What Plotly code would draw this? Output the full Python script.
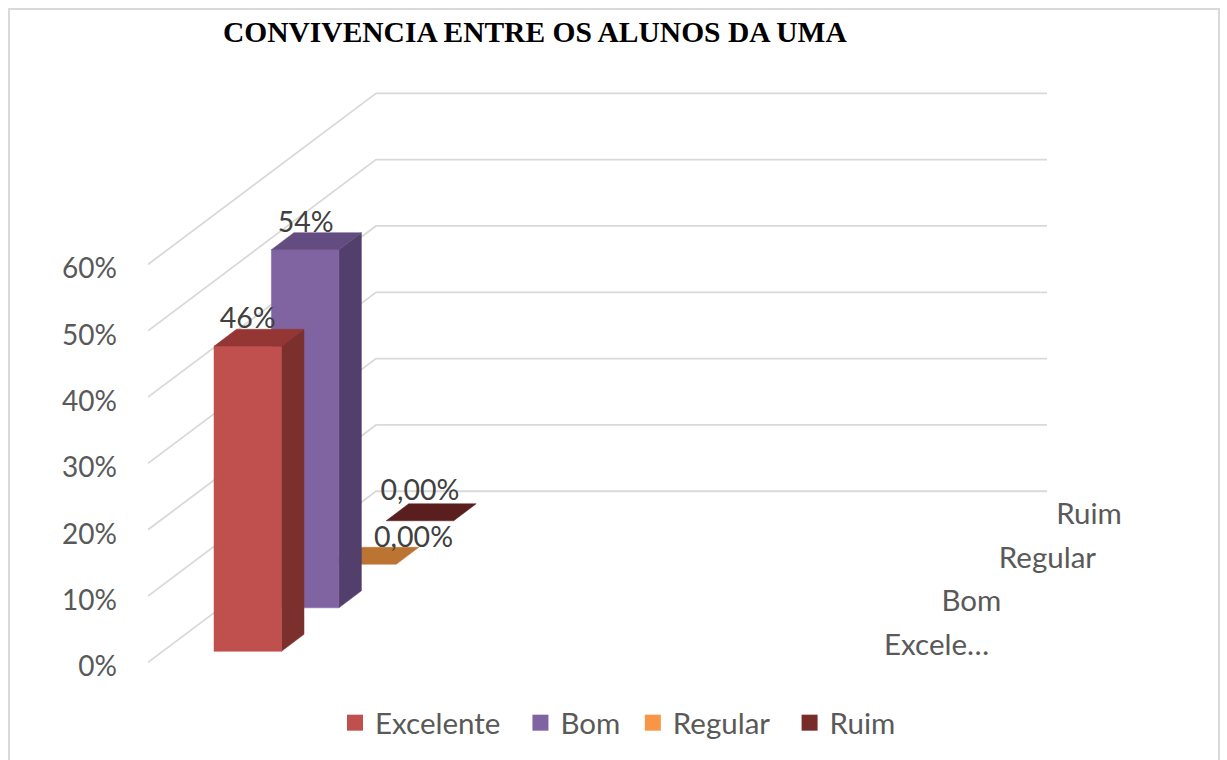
import plotly.graph_objects as go

# ---- data ----
title = "CONVIVENCIA ENTRE OS ALUNOS DA UMA"
categories = ["Excelente", "Bom", "Regular", "Ruim"]
depth_labels = ["Excele…", "Bom", "Regular", "Ruim"]
values = [46, 54, 0, 0]
value_labels = ["46%", "54%", "0,00%", "0,00%"]
y_ticks = [0, 10, 20, 30, 40, 50, 60]
y_tick_text = ["0%", "10%", "20%", "30%", "40%", "50%", "60%"]

# ---- styles ----
front_col = ["#c0504d", "#8064a2", "#f79646", "#772c2a"]
side_col = ["#7c302e", "#533f6c", "#a5642c", "#4e1c1b"]
top_col = ["#943634", "#634c7f", "#bc7433", "#5a1e1e"]
GRID = "#d9d9d9"
TXT = "#595959"
FONT = "Lato"

# oblique projection: horizontal unit = 1 px, vertical unit = 1 percentage point
PX_PER_PCT = 570 / 86
Y_MIN, Y_MAX = -1, 86
PLOT_H = (Y_MAX - Y_MIN) * PX_PER_PCT
ZERO_PX = 662
WALL_DX, WALL_DY = 228, 171 / PX_PER_PCT
STEP_DX, STEP_DY = 57.4, 43.5 / PX_PER_PCT
BAR_X0, BAR_Y0 = 66, 11 / PX_PER_PCT
BAR_W = 67.5
BAR_DX, BAR_DY = 22.5, 17 / PX_PER_PCT
GRID_END = 899
X_MAX = 1069
label_off = [(0, 25), (0.5, 25), (51, 24), (0, 28)]
legend_pad = [2, 1, 2, 0]
tick_nudge = 4 / PX_PER_PCT


def corner(i, v, along=0, deep=0):
    return (BAR_X0 + i * STEP_DX + along + deep * BAR_DX,
            BAR_Y0 + i * STEP_DY + v + deep * BAR_DY)


def face(points, color):
    xs, ys = zip(*points)
    return go.Scatter(x=list(xs) + [xs[0]], y=list(ys) + [ys[0]], mode="lines",
                      fill="toself", fillcolor=color, line=dict(color=color, width=0.5),
                      showlegend=False, hoverinfo="skip")


def paper_x(px):
    return (px - 148) / X_MAX


def paper_y(px):
    return (92 + PLOT_H - px) / PLOT_H


fig = go.Figure()

# gridlines wrapped round floor side and back wall
for v in y_ticks:
    fig.add_trace(go.Scatter(x=[0, WALL_DX, GRID_END],
                             y=[v, v + WALL_DY, v + WALL_DY], mode="lines",
                             line=dict(color=GRID, width=1.8), showlegend=False,
                             hoverinfo="skip", cliponaxis=False))

# bars, back to front
for i in reversed(range(len(values))):
    v = values[i]
    if v > 0:
        fig.add_trace(face([corner(i, 0, BAR_W), corner(i, v, BAR_W),
                            corner(i, v, BAR_W, 1), corner(i, 0, BAR_W, 1)], side_col[i]))
        fig.add_trace(face([corner(i, 0), corner(i, v), corner(i, v, BAR_W),
                            corner(i, 0, BAR_W)], front_col[i]))
    fig.add_trace(face([corner(i, v), corner(i, v, BAR_W),
                        corner(i, v, BAR_W, 1), corner(i, v, 0, 1)], top_col[i]))

# data labels
for i, v in enumerate(values):
    x, y = corner(i, v, BAR_W / 2)
    fig.add_trace(go.Scatter(x=[x + label_off[i][0]], y=[y + label_off[i][1] / PX_PER_PCT],
                             mode="text", text=[value_labels[i]], textposition="middle center",
                             textfont=dict(family=FONT, size=28.5, color="#404040"),
                             showlegend=False, hoverinfo="skip", cliponaxis=False))

# depth axis labels
for i, lab in enumerate(depth_labels):
    fig.add_trace(go.Scatter(x=[736 + i * STEP_DX], y=[2.25 + i * STEP_DY],
                             mode="text", text=[lab], textposition="middle right",
                             textfont=dict(family=FONT, size=29.5, color=TXT),
                             showlegend=False, hoverinfo="skip", cliponaxis=False))

# legend entries
for name, col, pad in zip(categories, front_col, legend_pad):
    fig.add_trace(go.Scatter(x=[None], y=[None], mode="markers", name=name + "\u00a0" * pad,
                             marker=dict(symbol="square", size=16, color=col)))

fig.update_layout(
    width=1227, height=760, margin=dict(l=148, r=10, t=92, b=760 - 92 - PLOT_H),
    paper_bgcolor="white", plot_bgcolor="rgba(0,0,0,0)",
    title=dict(text=f"<b>{title}</b>", x=223 / 1227, xanchor="left", y=1 - 32 / 760,
               yanchor="middle", font=dict(family="Liberation Serif", size=29.5, color="black")),
    xaxis=dict(range=[0, X_MAX], visible=False),
    yaxis=dict(range=[Y_MIN, Y_MAX], tickmode="array",
               tickvals=[t - tick_nudge for t in y_ticks], ticktext=y_tick_text,
               showgrid=False, zeroline=False, showline=False, ticks="",
               ticklabelstandoff=30, tickfont=dict(family=FONT, size=28, color=TXT)),
    legend=dict(orientation="h", x=618 / 1227, xref="container", xanchor="center",
                y=1 - 723 / 760, yref="container", yanchor="middle",
                font=dict(family=FONT, size=29.5, color=TXT), itemclick=False,
                itemdoubleclick=False),
    shapes=[dict(type="path", xref="paper", yref="paper", layer="below",
                 path=f"M {paper_x(9)} {paper_y(790)} L {paper_x(9)} {paper_y(9)} "
                      f"L {paper_x(1219)} {paper_y(9)} L {paper_x(1219)} {paper_y(790)}",
                 line=dict(color=GRID, width=2))],
)

fig.write_html("out.html", config=dict(displayModeBar=False),
               post_script="document.body.style.margin='0';document.body.style.overflow='hidden';")
